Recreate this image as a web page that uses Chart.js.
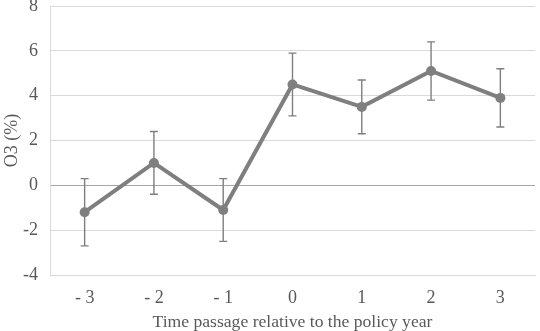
<!DOCTYPE html>
<html>
<head>
<meta charset="utf-8">
<script src="https://cdn.jsdelivr.net/npm/chart.js@4"></script>
<style>
  html, body { margin: 0; padding: 0; background: #fff; }
  canvas { display: block; }
</style>
</head>
<body>
<canvas id="o3Chart" width="540" height="331"></canvas>
<script>
const years = ['- 3', '- 2', '- 1', '0', '1', '2', '3'];
const o3Values = [-1.2, 1.0, -1.1, 4.5, 3.5, 5.1, 3.9];
const o3Errors = [1.5, 1.4, 1.4, 1.4, 1.2, 1.3, 1.3];
const yTicks = [-4, -2, 0, 2, 4, 6, 8];

const lineGray = '#7f7f7f';
const fontFamily = "'Liberation Serif', 'Times New Roman', serif";

// draws the error bars under the line, using the chart's own scales
const errorBars = {
    id: 'errorBars',
    beforeDatasetsDraw(chart) {
        const ctx = chart.ctx;
        const x = chart.scales.x;
        const y = chart.scales.y;
        ctx.save();
        ctx.strokeStyle = lineGray;
        ctx.lineWidth = 1.4;
        o3Values.forEach((v, i) => {
            const px = x.getPixelForValue(i);
            const top = y.getPixelForValue(v + o3Errors[i]);
            const bot = y.getPixelForValue(v - o3Errors[i]);
            ctx.beginPath();
            ctx.moveTo(px, top);
            ctx.lineTo(px, bot);
            ctx.moveTo(px - 4, top);
            ctx.lineTo(px + 4, top);
            ctx.moveTo(px - 4, bot);
            ctx.lineTo(px + 4, bot);
            ctx.stroke();
        });
        ctx.restore();
    }
};

const ctx = document.getElementById('o3Chart').getContext('2d');
const o3Chart = new Chart(ctx, {
    type: 'line',
    data: {
        labels: years,
        datasets: [{
            label: 'O3',
            data: o3Values,
            borderColor: lineGray,
            backgroundColor: lineGray,
            borderWidth: 4,
            pointRadius: 5,
            pointBackgroundColor: lineGray,
            pointBorderWidth: 0,
            tension: 0
        }]
    },
    options: {
        responsive: false,
        animation: false,
        layout: { padding: { top: 6, right: 0, left: 0, bottom: 0 } },
        scales: {
            x: {
                offset: true,
                afterFit(axis) {
                    axis.height = 56;
                },
                grid: { display: false },
                border: { display: true, color: '#d9d9d9' },
                ticks: { color: '#595959', font: { family: fontFamily, size: 18 }, padding: 4 },
                title: {
                    display: true,
                    text: 'Time passage relative to the policy year',
                    color: '#595959',
                    font: { family: fontFamily, size: 17.6 },
                    padding: { top: 2, bottom: -2 }
                }
            },
            y: {
                min: -4,
                max: 8,
                afterBuildTicks(axis) {
                    axis.ticks = yTicks.map(v => ({ value: v }));
                },
                afterFit(axis) {
                    // the top label is allowed to run off the canvas, as in the original
                    axis.paddingTop = 0;
                    axis.width = 50;
                },
                grid: {
                    color: c => c.tick && c.tick.value === 0 ? '#a6a6a6' : '#d9d9d9',
                    lineWidth: 1,
                    drawTicks: false
                },
                border: { display: true, color: '#d9d9d9' },
                ticks: { color: '#595959', font: { family: fontFamily, size: 18 }, padding: 12 },
                title: {
                    display: true,
                    text: 'O3 (%)',
                    color: '#595959',
                    font: { family: fontFamily, size: 18 },
                    padding: { top: 1, bottom: 0 }
                }
            }
        },
        plugins: {
            legend: { display: false },
            tooltip: { enabled: false }
        }
    },
    plugins: [errorBars]
});
</script>
</body>
</html>
